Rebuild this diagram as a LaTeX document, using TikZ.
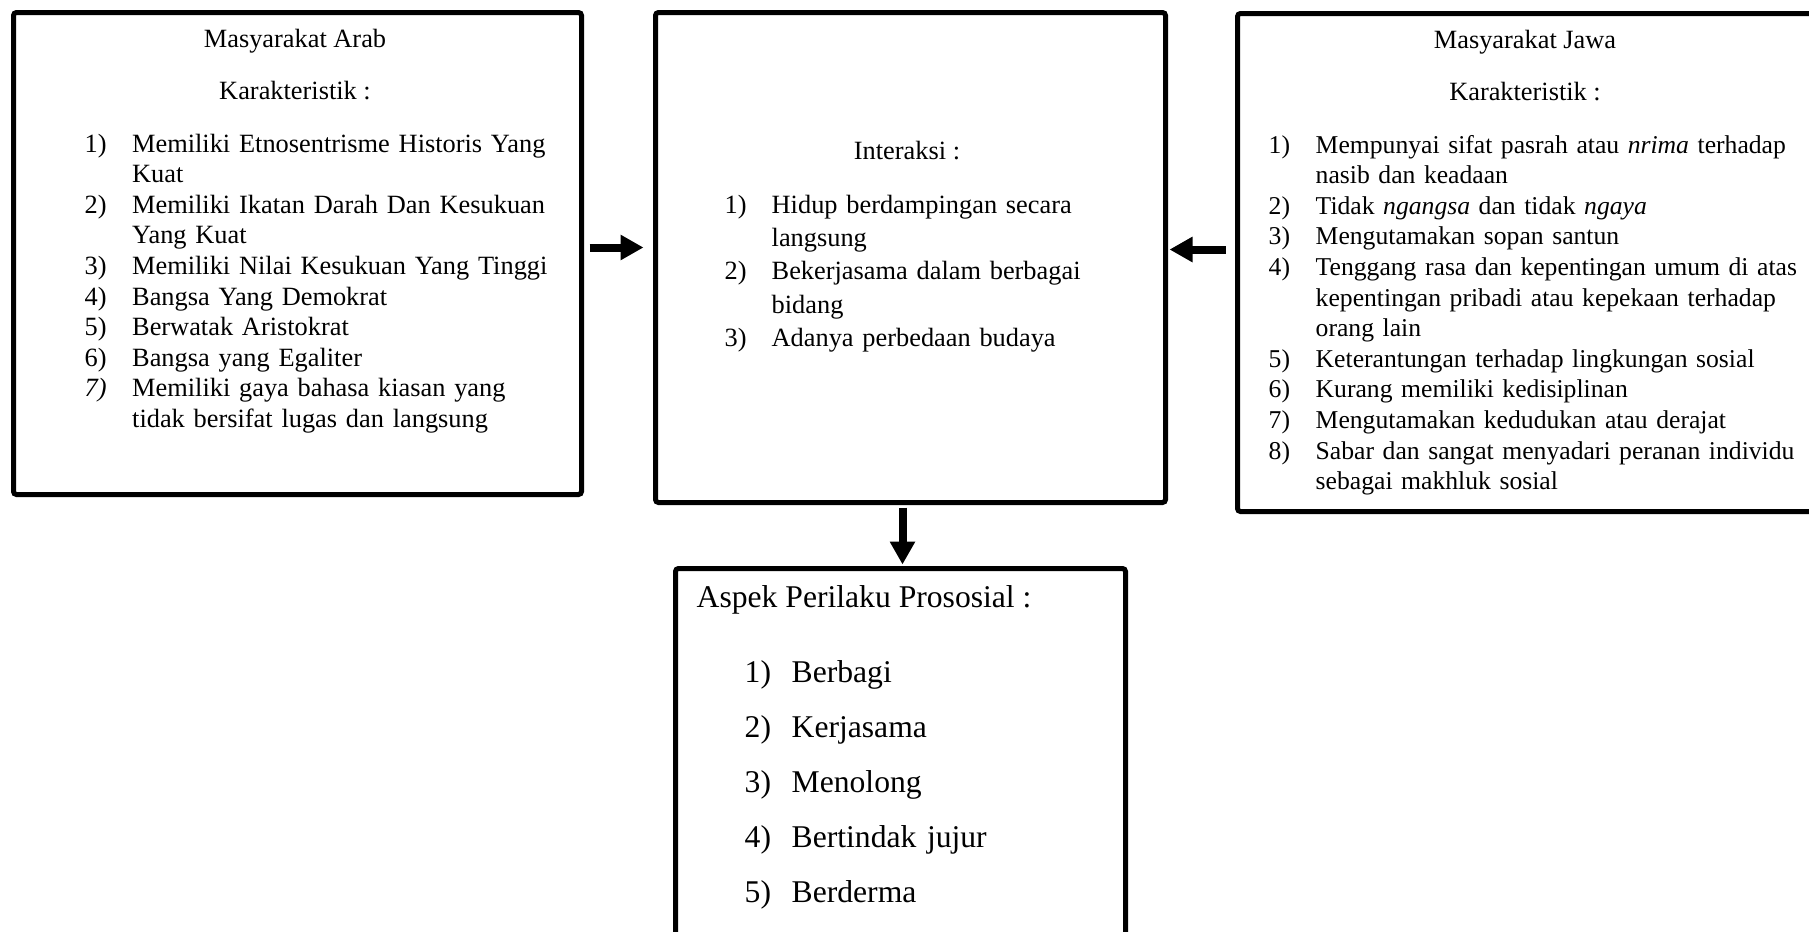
\documentclass[tikz,border=0pt]{standalone}
\usepackage{fontspec}
\setmainfont{Liberation Serif}
\usetikzlibrary{arrows.meta}
\newlength{\numw}
% first line of a numbered item, its next lines, and a line set to the full width
\newcommand{\itemline}[2]{\makebox[\numw][l]{#1}#2}
\newcommand{\contline}[1]{\hspace*{\numw}#1}
\newcommand{\fullline}[1]{\makebox[47.8mm][s]{#1}}
\begin{document}
\begin{tikzpicture}[x=0.1mm, y=-0.1mm,
% common options for the frames:
frame/.style = {draw, line width=0.5mm, rounded corners=0.3mm, anchor=north west, inner sep=0},
% common options for the texts:
head/.style = {anchor=base, inner sep=0, font=\fontsize{7.5}{8.71}\selectfont},
list/.style = {anchor=base west, inner sep=0, text width=60mm, font=\fontsize{7.5}{8.71}\selectfont},
% block arrows between the frames:
flow/.style = {line width=0.8mm, -{Triangle[length=2.3mm, width=2.4mm]}}]
\useasboundingbox (0,0) rectangle (1809,931);
\node[frame, minimum width=56.8mm, minimum height=48.2mm] (arab) at (11,10) {};
\node[frame, minimum width=51mm, minimum height=49mm] (inter) at (653,10) {};
\node[frame, minimum width=57.8mm, minimum height=49.8mm] (jawa) at (1235,11) {};
\node[frame, minimum width=45mm, minimum height=42mm] (prosos) at (673,566) {};
\node[head] (arabT) at (295,47) {Masyarakat Arab};
\node[head] (arabK) at (295,99) {Karakteristik :};
\node[list] (arabL) at (84,152) {\setlength{\numw}{4.75mm}%
\itemline{1)}{Memiliki Etnosentrisme Historis Yang}\newline
\contline{Kuat}\newline
\itemline{2)}{Memiliki Ikatan Darah Dan Kesukuan}\newline
\contline{Yang Kuat}\newline
\itemline{3)}{Memiliki Nilai Kesukuan Yang Tinggi}\newline
\itemline{4)}{Bangsa Yang Demokrat}\newline
\itemline{5)}{Berwatak Aristokrat}\newline
\itemline{6)}{Bangsa yang Egaliter}\newline
\itemline{\textit{7)}}{Memiliki gaya bahasa kiasan yang}\newline
\contline{tidak bersifat lugas dan langsung}};
\node[head] (interT) at (907,159) {Interaksi :};
\node[list, font=\fontsize{7.5}{9.53}\selectfont] (interL) at (724,213) {\setlength{\numw}{4.7mm}%
\itemline{1)}{Hidup berdampingan secara}\newline
\contline{langsung}\newline
\itemline{2)}{Bekerjasama dalam berbagai}\newline
\contline{bidang}\newline
\itemline{3)}{Adanya perbedaan budaya}};
\node[head] (jawaT) at (1525,48) {Masyarakat Jawa};
\node[head] (jawaK) at (1525,100) {Karakteristik :};
\node[list, font=\fontsize{7.3}{8.71}\selectfont] (jawaL) at (1268,153) {\setlength{\numw}{4.7mm}%
\itemline{1)}{\fullline{Mempunyai sifat pasrah atau \textit{nrima} terhadap}}\newline
\contline{nasib dan keadaan}\newline
\itemline{2)}{Tidak \textit{ngangsa} dan tidak \textit{ngaya}}\newline
\itemline{3)}{Mengutamakan sopan santun}\newline
\itemline{4)}{\fullline{Tenggang rasa dan kepentingan umum di atas}}\newline
\contline{\fullline{kepentingan pribadi atau kepekaan terhadap}}\newline
\contline{orang lain}\newline
\itemline{5)}{Keterantungan terhadap lingkungan sosial}\newline
\itemline{6)}{Kurang memiliki kedisiplinan}\newline
\itemline{7)}{Mengutamakan kedudukan atau derajat}\newline
\itemline{8)}{\fullline{Sabar dan sangat menyadari peranan individu}}\newline
\contline{sebagai makhluk sosial}};
\node[anchor=base west, inner sep=0, font=\fontsize{9}{10}\selectfont] (prososT) at (696,607) {Aspek Perilaku Prososial :};
\node[list, font=\fontsize{9}{15.65}\selectfont] (prososL) at (744,682) {\setlength{\numw}{4.7mm}%
\itemline{1)}{Berbagi}\newline
\itemline{2)}{Kerjasama}\newline
\itemline{3)}{Menolong}\newline
\itemline{4)}{Bertindak jujur}\newline
\itemline{5)}{Berderma}};
\draw[flow, shorten <=0.55mm, shorten >=0.95mm] ([yshift=0.6mm]arab.east) -- ([yshift=0.6mm]arab.east -| inter.west);
\draw[flow, shorten <=0.95mm, shorten >=0.15mm] ([yshift=1.3mm]jawa.west) -- ([yshift=1.3mm]jawa.west -| inter.east);
\draw[flow, shorten <=0.25mm, shorten >=0.15mm] ([xshift=0.2mm]inter.south -| prosos.north) -- ([xshift=0.2mm]prosos.north);
\end{tikzpicture}
\end{document}
